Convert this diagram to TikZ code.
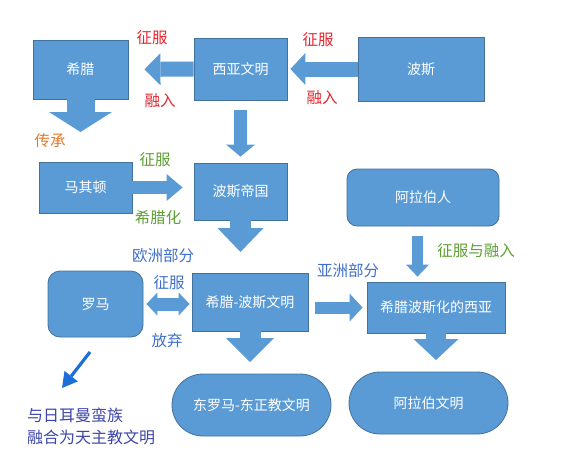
\documentclass[tikz,border=0pt]{standalone}
\usepackage{fontspec}
\newfontfamily\cjk{Noto Sans CJK SC}
\usetikzlibrary{arrows.meta}

\begin{document}
\begin{tikzpicture}[x=1pt, y=-1pt,
    box/.style={draw=borderColour, fill=fillColour, text=white, line width=0.8pt,
        inner sep=0pt, font=\cjk\fontsize{14}{17}\selectfont},
    roundbox/.style={box, rounded corners=10pt},
    pill/.style={box, rounded corners=31pt},
    fat/.style n args={3}{fillColour, line width=#1,
        -{Triangle[width=#2, length=#3, line width=0pt]}},
    fatboth/.style n args={3}{fillColour, line width=#1,
        {Triangle[width=#2, length=#3, line width=0pt]}-{Triangle[width=#2, length=#3, line width=0pt]}},
    lbl/.style={inner sep=0pt, font=\cjk\fontsize{15.5}{18}\selectfont}]

    \definecolor{borderColour}{HTML}{41719C}
    \definecolor{fillColour}{HTML}{5B9BD5}
    \definecolor{redText}{HTML}{E3262E}
    \definecolor{orangeText}{HTML}{E57A2A}
    \definecolor{greenText}{HTML}{5E9E35}
    \definecolor{blueText}{HTML}{3F6FCB}
    \definecolor{navyText}{HTML}{3D46A8}
    \definecolor{arrowBlue}{HTML}{1E6ED8}

    \useasboundingbox (0,0) rectangle (582,459);

    % Boxes
    \node[box, minimum width=95pt, minimum height=59pt] (xila) at (80.5,69.5) {希腊};
    \node[box, minimum width=93pt, minimum height=62pt] (xiya) at (240.5,69) {西亚文明};
    \node[box, minimum width=126pt, minimum height=64pt] (bosi) at (421,69) {波斯};
    \node[box, minimum width=93pt, minimum height=51pt] (maqidun) at (85.5,187.5) {马其顿};
    \node[box, minimum width=93pt, minimum height=57pt] (bsdg) at (240.5,191.5) {波斯帝国};
    \node[roundbox, minimum width=152pt, minimum height=57pt] (alabo) at (423,197.5) {阿拉伯人};
    \node[roundbox, rounded corners=12pt, minimum width=95pt, minimum height=66pt] (luoma) at (95.5,304) {罗马};
    \node[box, minimum width=116pt, minimum height=58pt] (xbws) at (250,302) {希腊-波斯文明};
    \node[box, minimum width=138pt, minimum height=51pt] (xiyah) at (436,307.5) {希腊波斯化的西亚};
    \node[pill, minimum width=159pt, minimum height=62pt] (dongluoma) at (251.5,405) {东罗马-东正教文明};
    \node[pill, minimum width=159pt, minimum height=62pt] (albwm) at (428.5,403) {阿拉伯文明};

    % Callout arrows under the boxes
    \coordinate (xilaTip) at (80.5,132);
    \coordinate (bsdgTip) at (240.5,252);
    \coordinate (xbwsTip) at (250,362);
    \coordinate (xiyahTip) at (436,360);
    \draw[fat={28pt}{63pt}{20pt}] ([yshift=1pt]xila.south) -- (xilaTip);
    \draw[fat={21pt}{46pt}{24pt}] ([yshift=1pt]bsdg.south) -- (bsdgTip);
    \draw[fat={21pt}{48pt}{24pt}] ([yshift=1pt]xbws.south) -- (xbwsTip);
    \draw[fat={20pt}{45pt}{21pt}] ([yshift=1pt]xiyah.south) -- (xiyahTip);

    % Arrows between the boxes
    \draw[fat={15pt}{32pt}{16pt}, shorten >=16pt] (xiya.west) -- (xila.east);
    \draw[fat={15pt}{32pt}{15pt}, shorten >=3pt] (bosi.west) -- (xiya.east);
    \draw[fat={13pt}{29pt}{12pt}, shorten <=10pt, shorten >=6pt] (xiya.south) -- (bsdg.north);
    \draw[fat={13pt}{27pt}{16pt}, shorten >=11pt] (maqidun.east) -- (maqidun.east -| bsdg.west);
    \draw[fat={11pt}{23pt}{12pt}, shorten <=10pt, shorten >=5pt]
        ([xshift=-5.5pt]alabo.south) -- ([xshift=-5.5pt]alabo.south |- xiyah.north);
    \draw[fat={12pt}{28pt}{13pt}, shorten <=7pt, shorten >=4pt] (xbws.east |- xiyah.west) -- (xiyah.west);
    \draw[fatboth={13pt}{23pt}{11pt}, shorten <=3pt, shorten >=2pt] (luoma.east) -- (luoma.east -| xbws.west);

    % Thin arrow from Rome
    \coordinate (luomaFrom) at (90,352);
    \coordinate (luomaTo) at (62,388);
    \draw[arrowBlue, line width=3.2pt, -{Triangle[width=17pt, length=15pt, line width=0pt]}] (luomaFrom) -- (luomaTo);

    % Labels
    \node[lbl, text=redText] (zhengfu1) at (152,38) {征服};
    \node[lbl, text=redText] (rongru1) at (160,101) {融入};
    \node[lbl, text=redText] (zhengfu2) at (318,40) {征服};
    \node[lbl, text=redText] (rongru2) at (322,98) {融入};
    \node[lbl, text=orangeText] (chuancheng) at (50,141) {传承};
    \node[lbl, text=greenText] (zhengfu3) at (155,160) {征服};
    \node[lbl, text=greenText] (xilahua) at (158,218) {希腊化};
    \node[lbl, text=blueText] (ouzhou) at (163,256) {欧洲部分};
    \node[lbl, text=greenText] (zfrr) at (476,251) {征服与融入};
    \node[lbl, text=blueText] (yazhou) at (348,271) {亚洲部分};
    \node[lbl, text=blueText] (zhengfu4) at (169,283) {征服};
    \node[lbl, text=blueText] (fangqi) at (167,341) {放弃};
    \node[lbl, text=navyText, anchor=west, align=left, font=\cjk\fontsize{16}{22}\selectfont]
        (rongheText) at (27,426) {与日耳曼蛮族\\融合为天主教文明};

\end{tikzpicture}
\end{document}
